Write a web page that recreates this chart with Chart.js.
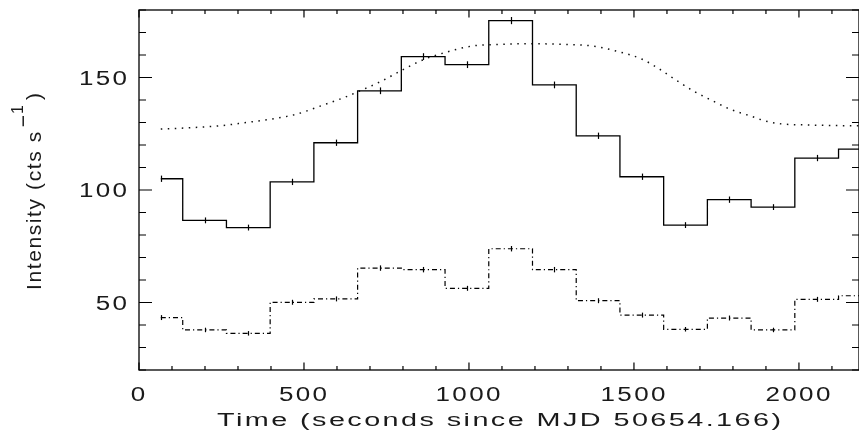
<!DOCTYPE html>
<html>
<head>
<meta charset="utf-8">
<script src="https://cdn.jsdelivr.net/npm/chart.js@4.4.1/dist/chart.umd.min.js"></script>
<style>
  html, body { margin: 0; padding: 0; background: #fff; }
  canvas { display: block; }
</style>
</head>
<body>
<canvas id="lightCurve" width="859" height="432"></canvas>
<script>
// bin centres, seconds since MJD 50654.166
const binTime = [66, 199, 331, 464, 596, 729, 861, 994, 1126, 1259, 1391, 1524, 1656, 1789, 1921, 2054, 2186];

// total band rate and 1-sigma errors
const totalRate = [105, 86.5, 83.3, 103.6, 121, 144.1, 159.3, 155.7, 175.3, 146.7, 124.1, 105.9, 84.4, 95.7, 92.4, 114.2, 118.2];
const totalErr = [1.4, 1.3, 1.3, 1.4, 1.4, 1.5, 1.5, 1.5, 1.6, 1.5, 1.4, 1.4, 1.3, 1.4, 1.3, 1.4, 1.4];

// soft band rate and errors
const softRate = [43.3, 37.8, 36.3, 50.1, 51.6, 65.3, 64.6, 56.3, 73.9, 64.6, 50.8, 44.4, 38.1, 43.1, 37.8, 51.4, 53];
const softErr = [1.1, 1.0, 1.0, 1.1, 1.1, 1.2, 1.2, 1.1, 1.2, 1.2, 1.1, 1.1, 1.0, 1.1, 1.0, 1.1, 1.1];

// model curve (dotted)
const modelTime = [66, 160, 250, 320, 410, 475, 555, 620, 675, 735, 790, 860, 925, 1010, 1085, 1195, 1305, 1375, 1440, 1525, 1580, 1630, 1680, 1735, 1790, 1855, 1895, 1940, 2030, 2145, 2190];
const modelRate = [127.1, 127.7, 128.6, 129.9, 131.7, 133.6, 137.6, 141, 144.4, 148.4, 152.7, 157.8, 161, 164, 164.7, 165, 164.6, 164, 162, 158.1, 153.5, 148.6, 144, 139.9, 136, 132.8, 130.8, 129.5, 128.9, 128.6, 128.6];

const xTicks = [0, 500, 1000, 1500, 2000];
const yTicks = [50, 100, 150];

const X_MIN = 0, X_MAX = 2182, Y_MIN = 20, Y_MAX = 180;
const INK = '#1a1a1a';

const pts = (xs, ys) => xs.map((x, i) => ({ x: x, y: ys[i] }));

// stretched, spaced lettering; if width is given the spacing is solved to fill it
function wideText(ctx, str, x, y, size, sx, align, spacing, width) {
  ctx.save();
  ctx.font = size + 'px "Liberation Sans"';
  ctx.letterSpacing = '0px';
  const nat = ctx.measureText(str).width;
  let ls = spacing;
  if (width) ls = (width / sx - nat) / (str.length - 1);
  const w = (nat + ls * (str.length - 1)) * sx;
  ctx.letterSpacing = ls + 'px';
  let x0 = x;
  if (align === 'center') x0 = x - w / 2;
  else if (align === 'right') x0 = x - w;
  ctx.translate(x0, y);
  ctx.scale(sx, 1);
  ctx.textAlign = 'left';
  ctx.textBaseline = 'alphabetic';
  ctx.fillStyle = INK;
  ctx.fillText(str, 0, 0);
  ctx.restore();
}

// vertical error ticks at each bin centre
const errorBars = {
  id: 'errorBars',
  afterDatasetsDraw(chart) {
    const { ctx, chartArea: a, scales: { x, y } } = chart;
    ctx.save();
    ctx.beginPath();
    ctx.rect(a.left, a.top, a.right - a.left, a.bottom - a.top);
    ctx.clip();
    ctx.strokeStyle = '#000';
    ctx.lineWidth = 1.2;
    chart.data.datasets.forEach(ds => {
      if (!ds.errors) return;
      ds.data.forEach((p, i) => {
        const px = Math.round(x.getPixelForValue(p.x)) + 0.5;
        ctx.beginPath();
        ctx.moveTo(px, y.getPixelForValue(p.y - ds.errors[i]));
        ctx.lineTo(px, y.getPixelForValue(p.y + ds.errors[i]));
        ctx.stroke();
      });
    });
    ctx.restore();
  }
};

// boxed frame with inward ticks, labels and axis titles
const frame = {
  id: 'frame',
  afterDraw(chart) {
    const { ctx, chartArea: a, scales: { x, y } } = chart;
    ctx.save();
    ctx.strokeStyle = '#000';
    ctx.lineWidth = 1.3;
    ctx.strokeRect(a.left, a.top, a.right - a.left, a.bottom - a.top);

    ctx.lineWidth = 1.2;
    ctx.beginPath();
    for (let t = X_MIN; t <= X_MAX; t += 100) {
      const px = x.getPixelForValue(t);
      const len = t % 500 === 0 ? 7.5 : 4;
      ctx.moveTo(px, a.bottom); ctx.lineTo(px, a.bottom - len);
      ctx.moveTo(px, a.top); ctx.lineTo(px, a.top + len);
    }
    for (let v = Y_MIN; v <= Y_MAX; v += 10) {
      const py = y.getPixelForValue(v);
      const len = v % 50 === 0 ? 13 : 7;
      ctx.moveTo(a.left, py); ctx.lineTo(a.left + len, py);
      ctx.moveTo(a.right, py); ctx.lineTo(a.right - len, py);
    }
    ctx.stroke();
    ctx.restore();

    xTicks.forEach(t => wideText(ctx, String(t), x.getPixelForValue(t) - 1, 401, 20, 1.3, 'center', 1.8));
    yTicks.forEach(v => wideText(ctx, String(v), 127, y.getPixelForValue(v) + 7, 20, 1.3, 'right', 1.8));
    wideText(ctx, 'Time (seconds since MJD 50654.166)', (a.left + a.right) / 2, 426, 18, 1.6, 'center', 0, 564);

    // rotated y title with raised exponent, reading upwards from y = 290
    ctx.save();
    ctx.fillStyle = INK;
    ctx.textBaseline = 'alphabetic';
    ctx.textAlign = 'left';
    ctx.translate(41, 290);
    ctx.rotate(-Math.PI / 2);
    ctx.font = '21px "Liberation Sans"';
    ctx.letterSpacing = '1.6px';
    const main = 'Intensity (cts s';
    ctx.fillText(main, 0, 0);
    let cx = ctx.measureText(main).width + 3;
    ctx.letterSpacing = '0px';
    ctx.fillText('\u2212', cx, -11.5);
    cx += ctx.measureText('\u2212').width + 1;
    ctx.font = '16px "Liberation Sans"';
    ctx.fillText('1', cx, -18);
    cx += ctx.measureText('1').width + 5;
    ctx.font = '21px "Liberation Sans"';
    ctx.fillText(')', cx, 0);
    ctx.restore();
  }
};

new Chart(document.getElementById('lightCurve'), {
  type: 'line',
  data: {
    datasets: [
      {
        label: 'Total',
        data: pts(binTime, totalRate),
        errors: totalErr,
        stepped: 'middle',
        borderColor: '#000',
        borderWidth: 1.3,
        pointRadius: 0,
        fill: false
      },
      {
        label: 'Soft',
        data: pts(binTime, softRate),
        errors: softErr,
        stepped: 'middle',
        borderColor: '#000',
        borderWidth: 1.2,
        borderDash: [5, 3, 1.2, 3],
        pointRadius: 0,
        fill: false
      },
      {
        label: 'Model',
        data: pts(modelTime, modelRate),
        cubicInterpolationMode: 'monotone',
        borderColor: '#111',
        borderWidth: 1.5,
        borderDash: [1.5, 5.5],
        pointRadius: 0,
        fill: false
      }
    ]
  },
  options: {
    responsive: false,
    animation: false,
    events: [],
    layout: { padding: { left: 139, top: 10, right: 0, bottom: 62 } },
    scales: {
      x: { type: 'linear', min: X_MIN, max: X_MAX, display: false },
      y: { type: 'linear', min: Y_MIN, max: Y_MAX, display: false }
    },
    plugins: {
      legend: { display: false },
      tooltip: { enabled: false }
    }
  },
  plugins: [errorBars, frame]
});
</script>
</body>
</html>
